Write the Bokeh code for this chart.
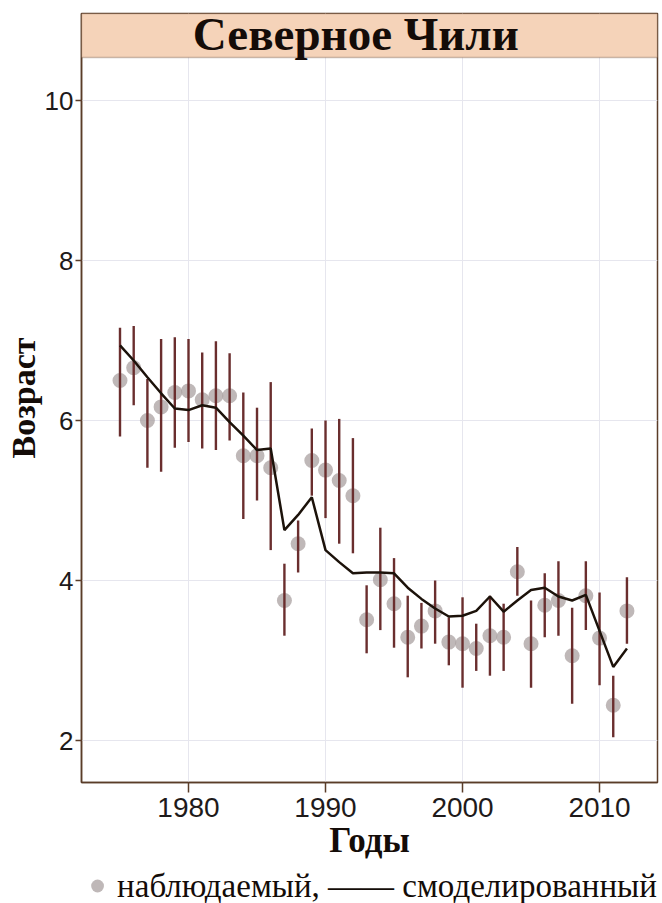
import math
from bokeh.plotting import figure
from bokeh.layouts import column
from bokeh.models import (Range1d, FixedTicker, Label, Legend, LegendItem,
                          ColumnDataSource, BoxAnnotation)
from bokeh.embed import file_html
from bokeh.resources import INLINE

# ---- data ----
years = list(range(1975, 2013))
observed = [6.50, 6.66, 6.00, 6.17, 6.35, 6.37, 6.26, 6.31, 6.31, 5.56, 5.56, 5.41,
            3.75, 4.46, 5.50, 5.38, 5.25, 5.06, 3.51, 4.01, 3.71, 3.29, 3.43, 3.62,
            3.23, 3.21, 3.15, 3.31, 3.29, 4.11, 3.21, 3.69, 3.75, 3.06, 3.81, 3.28,
            2.44, 3.62]
upper = [7.16, 7.18, 6.52, 7.02, 7.04, 7.02, 6.85, 6.99, 6.84, 6.35, 6.16, 6.48,
         4.21, 4.75, 5.90, 6.00, 6.02, 5.78, 3.94, 4.66, 4.28, 3.81, 3.72, 4.00,
         3.54, 3.79, 3.46, 3.81, 3.71, 4.42, 3.75, 4.09, 4.24, 3.66, 4.24, 3.85,
         2.81, 4.04]
lower = [5.80, 6.19, 5.41, 5.36, 5.66, 5.73, 5.65, 5.63, 5.75, 4.77, 5.00, 4.38,
         3.31, 4.10, 5.06, 4.78, 4.46, 4.34, 3.09, 3.38, 3.16, 2.79, 3.15, 3.21,
         2.94, 2.66, 2.87, 2.81, 2.87, 3.81, 2.66, 3.29, 3.31, 2.46, 3.38, 2.69,
         2.04, 3.21]
modelled = [6.94, 6.75, 6.54, 6.34, 6.15, 6.13, 6.19, 6.16, 5.98, 5.81, 5.63, 5.65,
            4.63, 4.82, 5.04, 4.38, 4.23, 4.09, 4.10, 4.10, 4.09, 3.91, 3.77, 3.65,
            3.55, 3.56, 3.62, 3.80, 3.61, 3.75, 3.88, 3.91, 3.80, 3.75, 3.82, 3.37,
            2.92, 3.15]
x_ticks = [1980, 1990, 2000, 2010]
y_ticks = [2, 4, 6, 8, 10]
title_text = "Северное Чили"
x_label = "Годы"
y_label = "Возраст"
legend_text = "наблюдаемый, —— смоделированный"

FRAME_COL = "#5a3c28"
SERIF = "Liberation Serif"
SANS = "Liberation Sans"
PT_COLOR = "#aaa0a0"

X0, X1 = 1972.19, 2014.23
Y0, Y1 = 1.475, 11.0875      # top part of the frame holds the panel strip
STRIP_BOTTOM = 10.5375

# ---- main panel ----
p = figure(frame_width=576, frame_height=769,
           x_range=Range1d(X0, X1), y_range=Range1d(Y0, Y1),
           output_backend="svg", toolbar_location=None, title=None,
           min_border_left=81, min_border_right=5, min_border_top=13,
           min_border_bottom=86)
p.background_fill_color = "white"
p.border_fill_color = "white"
p.outline_line_color = FRAME_COL
p.outline_line_width = 1.5

src = ColumnDataSource(dict(year=years, obs=observed, lo=lower, hi=upper, mod=modelled))

p.scatter("year", "obs", source=src, size=15, fill_color=PT_COLOR,
          fill_alpha=0.75, line_color=None)
p.segment(x0="year", y0="lo", x1="year", y1="hi", source=src,
          line_color="#6a2e2e", line_width=2.4)
p.line("year", "mod", source=src, line_color="#1c120a", line_width=2.5)

for ax in (p.xaxis, p.yaxis):
    ax.axis_line_color = FRAME_COL
    ax.axis_line_width = 1.5
    ax.major_tick_line_color = FRAME_COL
    ax.major_tick_line_width = 1.5
    ax.minor_tick_line_color = None
    ax.major_tick_in = 0
    ax.major_label_text_font = SANS
    ax.major_label_text_color = "#1e1a1a"

p.xaxis.ticker = FixedTicker(ticks=x_ticks)
p.yaxis.ticker = FixedTicker(ticks=y_ticks)
p.xaxis.major_tick_out = 10
p.yaxis.major_tick_out = 6
p.xaxis.major_label_text_font_size = "28px"
p.yaxis.major_label_text_font_size = "26px"
p.xaxis.major_label_standoff = 5
p.yaxis.major_label_standoff = 2

p.xaxis.axis_label = x_label
p.xaxis.axis_label_text_font = SERIF
p.xaxis.axis_label_text_font_style = "bold"
p.xaxis.axis_label_text_font_size = "35px"
p.xaxis.axis_label_text_color = "#140c08"
p.xaxis.axis_label_standoff = 1

p.yaxis.axis_label = y_label
p.yaxis.axis_label_text_font = SERIF
p.yaxis.axis_label_text_font_style = "bold"
p.yaxis.axis_label_text_font_size = "34px"
p.yaxis.axis_label_text_color = "#140c08"
p.yaxis.axis_label_standoff = 0

p.xgrid.ticker = FixedTicker(ticks=x_ticks)
p.ygrid.ticker = FixedTicker(ticks=y_ticks)
p.grid.grid_line_color = "#e6e6ee"
p.grid.grid_line_width = 1

# panel strip with its title
p.add_layout(BoxAnnotation(bottom=STRIP_BOTTOM, fill_color="#f5d3b9", fill_alpha=1,
                           line_color=FRAME_COL, line_width=1.5))
p.add_layout(Label(x=(X0 + X1) / 2 - 1.0, y=10.83, text=title_text,
                   text_align="center", text_baseline="middle",
                   text_font=SERIF, text_font_style="bold",
                   text_font_size="47px", text_color="#140c08"))

# ---- legend row ----
lg = figure(frame_width=576, frame_height=35,
            x_range=Range1d(0, 1), y_range=Range1d(0, 1),
            output_backend="svg", toolbar_location=None, title=None,
            min_border_left=81, min_border_right=5, min_border_top=0,
            min_border_bottom=0)
lg.axis.visible = False
lg.grid.visible = False
lg.outline_line_color = None
lg.background_fill_color = "white"
lg.border_fill_color = "white"
# key renderer shares the observed data; its points fall outside this row's ranges
key = lg.scatter("year", "obs", source=src, size=15, fill_color=PT_COLOR,
                 fill_alpha=0.75, line_color=None)
legend = Legend(items=[LegendItem(label=legend_text, renderers=[key])],
                orientation="horizontal", location="center",
                label_text_font=SERIF, label_text_font_size="33px",
                label_text_color="#140c08", glyph_width=32, glyph_height=32,
                label_standoff=4, padding=0, margin=0,
                border_line_color=None, background_fill_alpha=0)
lg.add_layout(legend)

layout = column(p, lg, spacing=0)

open("out.html", "w").write(file_html(layout, INLINE))
